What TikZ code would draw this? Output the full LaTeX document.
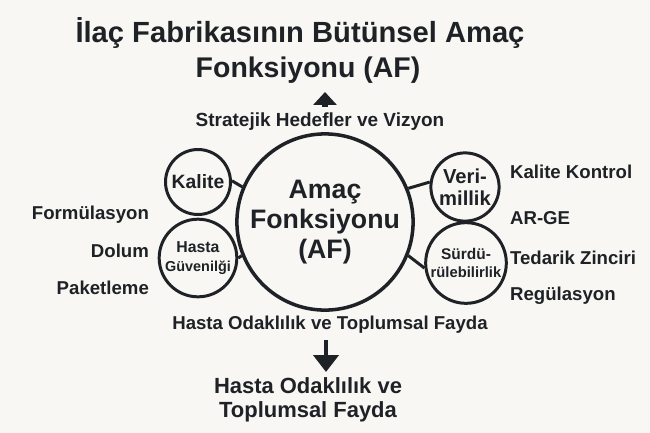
\documentclass[tikz,border=0pt]{standalone}
\usepackage{fontspec}
\setmainfont{Liberation Sans}
\usetikzlibrary{arrows.meta}
\definecolor{ink}{HTML}{1E2226}
\definecolor{paper}{HTML}{F8F7F3}
\tikzset{
  bigcirc/.style={draw=ink, circle, line width=2pt, minimum size=3.14cm, inner sep=0pt},
  smallcirc/.style={draw=ink, circle, line width=1.7pt, minimum size=1.3cm, inner sep=0pt},
  txt/.style={text=ink, font=\bfseries, inner sep=1pt},
  side/.style={txt, font=\bfseries\fontsize{10.6}{12}\selectfont},
  link/.style={draw=ink, line width=1.7pt},
}
\begin{document}
\begin{tikzpicture}[x=0.02cm, y=-0.02cm]
        \fill [paper] (0, 0) rectangle (650, 433);
        \useasboundingbox (0, 0) rectangle (650, 433);

        % Titel
        \node [txt, font=\bfseries\fontsize{16.6}{19}\selectfont] (title1) at (300, 33) {İlaç Fabrikasının Bütünsel Amaç};
        \node [txt, font=\bfseries\fontsize{16.2}{19}\selectfont] (title2) at (308, 70) {Fonksiyonu (AF)};
        \node [txt, font=\bfseries\fontsize{10.8}{12}\selectfont] (vizyon) at (320, 122) {Stratejik Hedefler ve Vizyon};

        \coordinate (upS) at (325, 107);
        \coordinate (upE) at (325, 92);
        \draw [ink, line width=3.4pt, -{Triangle[width=0.46cm, length=0.26cm]}] (upS) -- (upE);

        % Kreise
        \node [bigcirc, txt, align=center, font=\bfseries\fontsize{15.2}{17.2}\selectfont] (af) at (325, 222) {\raisebox{-2pt}{\parbox{3cm}{\centering Amaç\\Fonksiyonu\\(AF)}}};
        \node [smallcirc, txt, font=\bfseries\fontsize{11}{12}\selectfont] (kalite) at (198, 182) {Kalite};
        \node [smallcirc, txt, align=center, font=\bfseries\fontsize{9}{10.5}\selectfont] (hasta) at (198, 258) {Hasta\\{\fontsize{8.2}{9}\selectfont Güvenilği}};
        \node [smallcirc, txt, align=center, font=\bfseries\fontsize{11.5}{12.5}\selectfont] (verim) at (465, 187) {Veri-\\millik};
        \node [smallcirc, txt, align=center, font=\bfseries\fontsize{8.8}{10}\selectfont] (surdu) at (466, 263) {Sürdü-\\{\fontsize{8.4}{9}\selectfont rülebilirlik}};

        \draw [link] (kalite.2) -- (af.157);
        \draw [link] (hasta.0) -- (af.202);
        \draw [link] (verim.172) -- (af.22);
        \draw [link] (surdu.187) -- (af.338);

        % links
        \node [side, anchor=east] (form) at (151, 215) {Formülasyon};
        \node [side, anchor=east] (dolum) at (151, 251) {Dolum};
        \node [side, anchor=east] (paket) at (151, 288) {Paketleme};

        % rechts
        \node [side, anchor=west] (kk) at (508, 172) {Kalite Kontrol};
        \node [side, anchor=west] (arge) at (508, 218) {AR-GE};
        \node [side, anchor=west] (tedarik) at (508, 258) {Tedarik Zinciri};
        \node [side, anchor=west] (regul) at (508, 296) {Regülasyon};

        % unten
        \node [side] (odak) at (330, 325) {Hasta Odaklılık ve Toplumsal Fayda};
        \coordinate (dnS) at (326, 340);
        \coordinate (dnE) at (326, 372);
        \draw [ink, line width=2.8pt, -{Triangle[width=0.5cm, length=0.34cm]}] (dnS) -- (dnE);

        \node [txt, align=center, font=\bfseries\fontsize{12.5}{13.7}\selectfont] (fayda) at (308, 400) {Hasta Odaklılık ve\\Toplumsal Fayda};
\end{tikzpicture}
\end{document}
